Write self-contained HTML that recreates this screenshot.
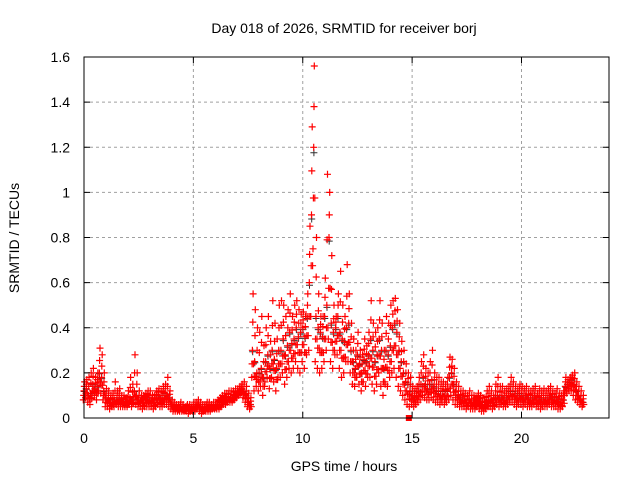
<!DOCTYPE html>
<html><head><meta charset="utf-8"><style>
body{margin:0;background:#fff}
svg{display:block;font-family:"Liberation Sans",sans-serif}
</style></head><body>
<svg id="chart" width="640" height="480" viewBox="0 0 640 480" xmlns="http://www.w3.org/2000/svg">
<rect width="640" height="480" fill="#fff"/>
<text x="344" y="33" font-size="14" text-anchor="middle">Day 018 of 2026, SRMTID for receiver borj</text>
<text x="344" y="471" font-size="14" text-anchor="middle">GPS time / hours</text>
<text transform="translate(19,238) rotate(-90)" font-size="14" text-anchor="middle">SRMTID / TECUs</text>
<g id="grid"></g>
<g id="marks"></g>
<rect x="84" y="57" width="525" height="361" fill="none" stroke="#000" stroke-width="1"/>
<g id="ticks"></g>
</svg>
<script>
const xTicks=[0,5,10,15,20];
const yTicks=[0,0.2,0.4,0.6,0.8,1,1.2,1.4,1.6];
const yTickLabels=["0","0.2","0.4","0.6","0.8","1","1.2","1.4","1.6"];
const tStart=0, tStep=0.1;
const midVals=[.12,.13,.10,.11,.15,.13,.14,.20,.18,.12,
.09,.08,.07,.07,.08,.08,.09,.08,.07,.07,
.07,.09,.08,.12,.10,.08,.08,.07,.08,.09,
.08,.08,.07,.09,.10,.08,.09,.11,.10,.09,
.06,.05,.05,.04,.05,.04,.04,.05,.04,.04,
.05,.05,.06,.05,.04,.04,.05,.05,.05,.05,
.05,.06,.06,.07,.08,.08,.09,.09,.09,.10,
.11,.12,.13,.12,.10,.07,.06,.30,.25,.20,
.20,.22,.18,.25,.28,.22,.30,.26,.22,.30,
.30,.35,.28,.32,.38,.33,.35,.40,.36,.38,
.40,.36,.45,.60,.90,1.2,.45,.40,.38,.36,
.45,.50,.80,.42,.38,.40,.45,.38,.35,.34,
.40,.42,.30,.25,.22,.28,.24,.20,.26,.25,
.28,.35,.30,.25,.28,.35,.30,.22,.30,.28,
.32,.40,.42,.38,.30,.25,.20,.16,.15,.12,
.10,.09,.10,.12,.15,.18,.15,.13,.15,.17,
.14,.12,.12,.10,.12,.10,.12,.18,.20,.15,
.12,.10,.09,.08,.08,.07,.08,.07,.07,.06,
.08,.07,.06,.06,.07,.08,.08,.07,.09,.10,
.09,.10,.08,.09,.10,.12,.12,.10,.09,.11,
.10,.09,.10,.09,.08,.09,.10,.08,.09,.08,
.09,.08,.09,.10,.09,.08,.09,.08,.07,.08,
.14,.15,.16,.17,.15,.12,.10,.08,.07];
const hiVals=[.16,.17,.18,.20,.22,.18,.20,.31,.28,.20,
.13,.12,.10,.11,.16,.12,.13,.10,.10,.09,
.12,.18,.15,.28,.20,.12,.10,.10,.11,.12,
.12,.10,.10,.12,.13,.12,.14,.15,.18,.12,
.08,.07,.06,.06,.07,.06,.05,.06,.06,.05,
.07,.07,.08,.07,.06,.06,.07,.07,.06,.07,
.07,.08,.09,.10,.11,.11,.12,.12,.12,.13,
.13,.14,.15,.16,.14,.11,.09,.55,.48,.40,
.38,.45,.32,.40,.45,.34,.52,.42,.35,.50,
.52,.50,.45,.48,.55,.45,.50,.52,.48,.46,
.47,.45,.55,.85,1.29,1.56,.80,.55,.45,.45,
.62,1.08,1.0,.72,.50,.45,.55,.65,.50,.45,
.68,.55,.42,.35,.30,.38,.30,.28,.35,.32,
.38,.52,.42,.38,.40,.52,.42,.30,.45,.42,
.50,.52,.53,.48,.42,.34,.30,.24,.20,.18,
.14,.13,.14,.18,.25,.28,.22,.20,.25,.30,
.20,.18,.18,.16,.16,.15,.18,.27,.26,.22,
.16,.14,.12,.12,.11,.10,.12,.10,.10,.09,
.11,.10,.09,.09,.12,.14,.12,.10,.15,.18,
.14,.14,.12,.13,.14,.18,.16,.14,.13,.15,
.14,.13,.14,.12,.12,.13,.14,.11,.13,.12,
.13,.12,.13,.14,.12,.11,.13,.11,.10,.12,
.18,.17,.18,.19,.20,.16,.14,.12,.10];
const loVals=[.08,.09,.07,.06,.09,.10,.08,.12,.11,.08,
.05,.05,.04,.05,.05,.06,.05,.05,.05,.05,
.05,.06,.05,.07,.06,.05,.05,.04,.05,.05,
.05,.05,.04,.05,.06,.05,.05,.06,.06,.05,
.04,.03,.03,.03,.03,.03,.03,.03,.02,.03,
.03,.03,.04,.03,.02,.03,.03,.03,.03,.04,
.04,.04,.04,.05,.06,.06,.07,.07,.07,.08,
.09,.10,.11,.09,.07,.05,.04,.18,.12,.14,
.12,.14,.10,.16,.18,.13,.18,.16,.12,.18,
.18,.20,.15,.18,.22,.20,.22,.25,.22,.20,
.25,.22,.28,.30,.45,.75,.25,.22,.20,.22,
.25,.30,.35,.25,.22,.28,.28,.22,.18,.20,
.25,.25,.20,.15,.14,.18,.15,.12,.16,.14,
.18,.18,.15,.12,.15,.20,.14,.10,.15,.14,
.18,.20,.22,.18,.14,.12,.10,.08,.06,.05,
.06,.05,.06,.07,.08,.10,.09,.08,.08,.09,
.08,.07,.07,.06,.07,.06,.07,.08,.10,.08,
.06,.06,.05,.05,.05,.04,.05,.04,.04,.04,
.05,.04,.03,.03,.04,.05,.05,.04,.05,.06,
.05,.06,.05,.05,.06,.07,.07,.06,.05,.06,
.06,.05,.06,.05,.05,.05,.06,.05,.05,.04,
.05,.05,.05,.06,.05,.05,.05,.04,.04,.05,
.10,.11,.12,.12,.10,.08,.07,.06,.05];
const outlierT=[14.85], outlierV=[0.0];

const NS="http://www.w3.org/2000/svg";
const X=t=>84+t*(525/24);
const Y=v=>418-v*(361/1.6);
const grid=document.getElementById('grid'), ticks=document.getElementById('ticks'), marks=document.getElementById('marks');
function mk(tag,attrs,parent){const e=document.createElementNS(NS,tag);for(const k in attrs)e.setAttribute(k,attrs[k]);parent.appendChild(e);return e;}
xTicks.forEach(t=>{
  const x=X(t);
  if(t>0){const g=mk('line',{x1:x,x2:x,y1:57,y2:418,stroke:'#a0a0a0','stroke-dasharray':'3,3'},grid);
  
  }
  const l=mk('path',{d:`M${x},418v-6M${x},57v6`,stroke:'#000'},ticks);
  
  
  const tx=mk('text',{x:x,y:443,'font-size':14,'text-anchor':'middle'},ticks);tx.textContent=t;
  
  
});
yTicks.forEach((v,i)=>{
  const y=Y(v);
  if(v>0&&v<1.6){const g=mk('line',{x1:84,x2:609,y1:y,y2:y,stroke:'#a0a0a0','stroke-dasharray':'3,3'},grid);
  
  }
  const l=mk('path',{d:`M84,${y}h6M609,${y}h-6`,stroke:'#000'},ticks);
  
  
  const tx=mk('text',{x:70,y:y+5,'font-size':14,'text-anchor':'end'},ticks);tx.textContent=yTickLabels[i];
  
  
});
let d='',dk='';
function cross(t,v){const x=X(t),y=Y(v);return `M${(x-3.5).toFixed(1)},${y.toFixed(1)}h7M${x.toFixed(1)},${(y-3.5).toFixed(1)}v7`;}
midVals.forEach((m,i)=>{
  const t=tStart+i*tStep, lo=loVals[i], hi=hiVals[i];
  d+=cross(t-0.03,lo)+cross(t,m)+cross(t+0.03,hi);
  d+=cross(t-0.015,(lo+m)/2)+cross(t+0.015,(m+hi)/2)+cross(t+0.05,(lo+m)/2);
  dk+=cross(t+0.01,m*0.98);
});
const dark=mk('path',{d:dk,stroke:'#303030','stroke-width':1,fill:'none'},marks);


const red=mk('path',{d:d,stroke:'#ff0000','stroke-width':1.2,fill:'none'},marks);


outlierT.forEach((t,i)=>{
  const r=mk('rect',{x:X(t)-3,y:Y(outlierV[i])-3,width:6,height:6,fill:'#ff0000'},marks);
  
  
});
</script>
</body></html>
